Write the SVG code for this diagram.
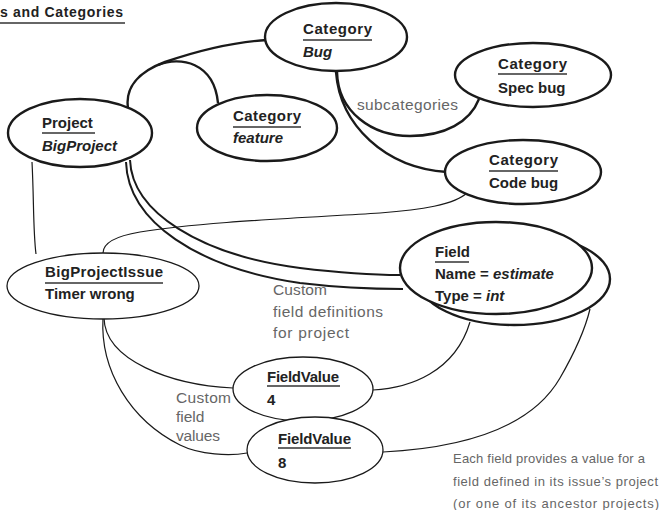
<svg xmlns="http://www.w3.org/2000/svg" width="660" height="510" viewBox="0 0 660 510">
<style>
.n{font-family:"Liberation Sans",Arial,sans-serif;font-size:15px;font-weight:bold;fill:#222}
.i{font-style:italic}
.lb{font-family:"Liberation Sans",Arial,sans-serif;font-size:15.5px;fill:#666}
.nt{font-family:"Liberation Sans",Arial,sans-serif;font-size:13px;fill:#666}
.thick{fill:#fff;stroke:#1a1a1a;stroke-width:2.4}
.thin{fill:#fff;stroke:#1a1a1a;stroke-width:1.3}
.ul{stroke:#333;stroke-width:1.3}
#connectors path{fill:none;stroke:#1a1a1a}
.ct{stroke-width:2.4}
.cm{stroke-width:2}
.cn{stroke-width:1.2}
</style>
<rect width="660" height="510" fill="#fff"/>
<g id="title">
<text x="0" y="17" class="n" style="font-size:14px" textLength="123">s and Categories</text>
<line x1="0" y1="23" x2="125" y2="23" class="ul"/>
</g>
<g id="connectors">
<path class="ct" d="M128 108 C125 88 138 72 165 62 C200 50 235 42 267 40"/>
<path class="ct" d="M158 65 C180 56 214 62 218 103"/>
<path class="ct" d="M337 72 C338 112 372 136 410 136 C445 136 470 122 479 99"/>
<path class="ct" d="M336 72 C340 125 385 168 447 172"/>
<path class="cm" d="M130 160 C132 212 200 255 300 268 C350 274 380 275 400 275"/>
<path class="cm" d="M126 162 C128 222 198 268 300 283 C350 289 380 289 403 289"/>
<path class="cn" d="M32 162 C34 200 33 230 36 254"/>
<path class="cn" d="M468 192 C455 205 420 210 380 213 C300 218 200 222 140 232 C110 237 103 245 103 253"/>
<path class="cn" d="M104 318 C105 360 170 385 233 388"/>
<path class="cn" d="M103 318 C100 370 130 420 180 445 C200 455 230 456 247 453"/>
<path class="cn" d="M373 390 C410 388 455 372 470 322"/>
<path class="cn" d="M383 452 C460 448 530 430 560 378 C575 352 585 330 590 309"/>
</g>
<g id="category-bug">
<ellipse cx="336" cy="37" rx="71" ry="34" class="thick"/>
<text x="303" y="34" class="n" textLength="69">Category</text>
<line x1="303" y1="40" x2="372" y2="40" class="ul"/>
<text x="303" y="57" class="n i">Bug</text>
</g>
<g id="category-spec-bug">
<ellipse cx="533" cy="75" rx="78" ry="32" class="thick"/>
<text x="498" y="69" class="n" textLength="69">Category</text>
<line x1="498" y1="74" x2="567" y2="74" class="ul"/>
<text x="498" y="93" class="n">Spec bug</text>
</g>
<g id="category-code-bug">
<ellipse cx="523" cy="172" rx="78" ry="32" class="thick"/>
<text x="489" y="165" class="n" textLength="69">Category</text>
<line x1="489" y1="171" x2="558" y2="171" class="ul"/>
<text x="489" y="188" class="n">Code bug</text>
</g>
<g id="category-feature">
<ellipse cx="267" cy="128" rx="70" ry="33" class="thick"/>
<text x="233" y="121" class="n" textLength="68">Category</text>
<line x1="233" y1="127" x2="301" y2="127" class="ul"/>
<text x="233" y="143" class="n i">feature</text>
</g>
<g id="project">
<ellipse cx="80" cy="133" rx="72" ry="34" class="thick"/>
<text x="42" y="128" class="n">Project</text>
<line x1="42" y1="133" x2="95" y2="133" class="ul"/>
<text x="42" y="151" class="n i">BigProject</text>
</g>
<g id="issue">
<ellipse cx="103" cy="286" rx="96" ry="33" class="thin"/>
<text x="45" y="277" class="n" textLength="118">BigProjectIssue</text>
<line x1="45" y1="283" x2="163" y2="283" class="ul"/>
<text x="45" y="299" class="n">Timer wrong</text>
</g>
<g id="field">
<ellipse cx="514" cy="279" rx="96" ry="46" class="thick"/>
<ellipse cx="496" cy="268" rx="96" ry="46" class="thick"/>
<text x="435" y="257" class="n">Field</text>
<line x1="435" y1="262" x2="469" y2="262" class="ul"/>
<text x="435" y="279" class="n">Name = <tspan class="i">estimate</tspan></text>
<text x="435" y="301" class="n">Type = <tspan class="i">int</tspan></text>
</g>
<g id="fieldvalue-4">
<ellipse cx="303" cy="389" rx="70" ry="32" class="thin"/>
<text x="267" y="382" class="n" textLength="72">FieldValue</text>
<line x1="267" y1="386" x2="340" y2="386" class="ul"/>
<text x="267" y="405" class="n">4</text>
</g>
<g id="fieldvalue-8">
<ellipse cx="315" cy="450" rx="68" ry="33" class="thin"/>
<text x="278" y="444" class="n" textLength="73">FieldValue</text>
<line x1="278" y1="448" x2="351" y2="448" class="ul"/>
<text x="278" y="468" class="n">8</text>
</g>
<g id="labels">
<text x="357" y="110" class="lb" textLength="101">subcategories</text>
<text x="273" y="295" class="lb" textLength="54">Custom</text>
<text x="273" y="317" class="lb" textLength="110">field definitions</text>
<text x="273" y="338" class="lb" textLength="76">for project</text>
<text x="176" y="403" class="lb" textLength="55">Custom</text>
<text x="176" y="422" class="lb">field</text>
<text x="176" y="441" class="lb" textLength="44">values</text>
<text x="453" y="463" class="nt" textLength="192">Each field provides a value for a</text>
<text x="453" y="486" class="nt" textLength="205">field defined in its issue’s project</text>
<text x="453" y="508" class="nt" textLength="206">(or one of its ancestor projects)</text>
</g>
</svg>
